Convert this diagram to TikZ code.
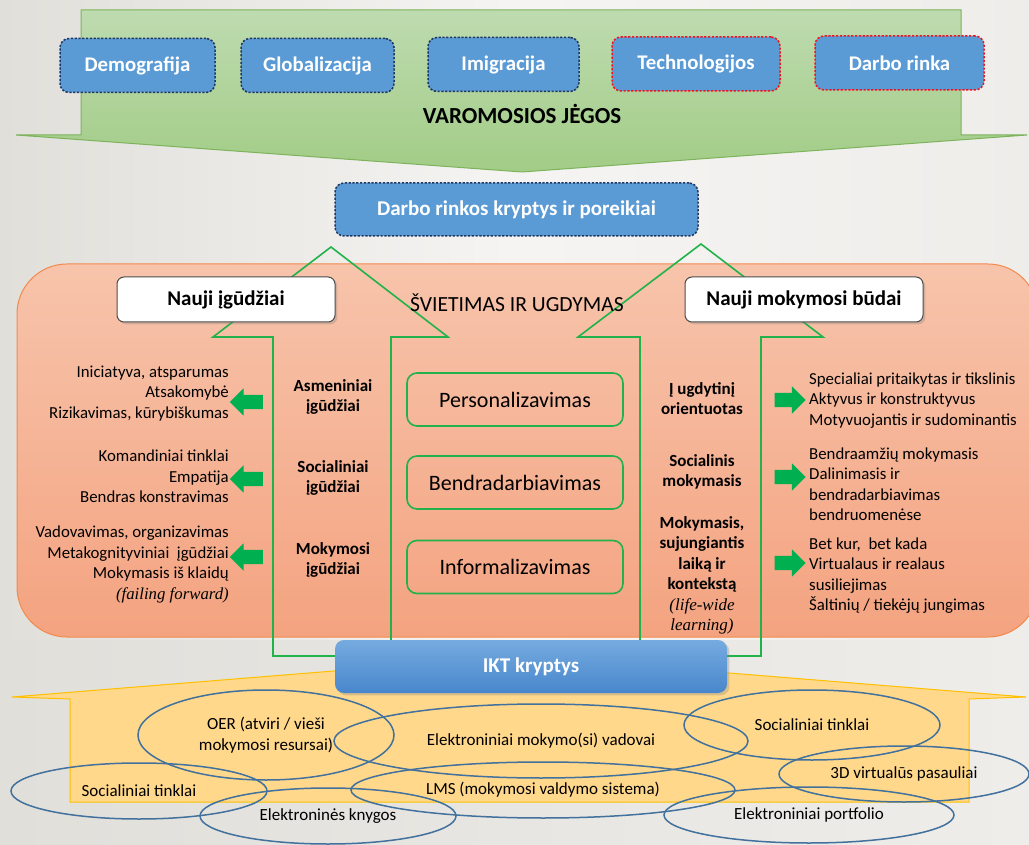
\documentclass[tikz,border=0pt]{standalone}
\usepackage{fontspec}
\setmainfont{Carlito}
\newfontfamily\itserif{Liberation Serif}
\usetikzlibrary{shapes.geometric,shapes.arrows,shadows,positioning}

\definecolor{pagebg}{HTML}{EFEDEA}
\definecolor{pageside}{HTML}{E1DFDA}
\definecolor{lowband}{HTML}{D3DEE1}
\definecolor{forcetop}{HTML}{BEDBB0}
\definecolor{forcebot}{HTML}{A2CC86}
\definecolor{forceline}{HTML}{7CB35B}
\definecolor{boxblue}{HTML}{5B9BD5}
\definecolor{forcenavy}{HTML}{1F3763}
\definecolor{forcered}{HTML}{F0141E}
\definecolor{paneltop}{HTML}{F7C4AB}
\definecolor{panelbot}{HTML}{F4A380}
\definecolor{panelline}{HTML}{F28A4E}
\definecolor{arrowgreen}{HTML}{22B24C}
\definecolor{pointgreen}{HTML}{00B050}
\definecolor{ictop}{HTML}{75ABDF}
\definecolor{icbot}{HTML}{4886CC}
\definecolor{toolfill}{HTML}{FFD88B}
\definecolor{toolline}{HTML}{FFC000}
\definecolor{elblue}{HTML}{41719C}

\newcommand{\engit}[1]{{\itserif\itshape\mdseries #1}}

\begin{document}
\begin{tikzpicture}[
        x=1pt, y=-1pt,
        font=\fontsize{16.8}{20.5}\selectfont,
        every node/.style={inner sep=0pt},
        force/.style={draw=forcenavy, dash pattern=on 2.2pt off 1.6pt, line width=1.5pt, fill=boxblue,
            rounded corners=9pt, text=white, font=\fontsize{20.8}{24}\selectfont\bfseries, minimum height=54pt},
        redforce/.style={force, draw=forcered},
        header/.style={draw=black!70, line width=1pt, fill=white, rounded corners=7pt,
            font=\fontsize{21}{24}\selectfont\bfseries, minimum height=45pt, drop shadow={opacity=0.3}},
        trend/.style={draw=arrowgreen, line width=1.6pt, rounded corners=10pt, minimum width=216pt,
            minimum height=53pt, font=\fontsize{22}{24}\selectfont},
        skill/.style={font=\fontsize{17}{20.5}\selectfont\bfseries, align=center},
        pointer/.style={single arrow, fill=pointgreen, inner xsep=0pt, inner ysep=7pt,
            minimum height=33pt, single arrow head extend=6.5pt},
        tool/.style={ellipse, draw=elblue, line width=1.5pt, align=center, font=\fontsize{17}{20.5}\selectfont},
        outline/.style={draw=arrowgreen, line width=1.6pt},
    ]
    \useasboundingbox (0,0) rectangle (1029,845);
    \shade[left color=pageside, right color=pagebg, middle color=pagebg!60!white] (0,0) rectangle (1029,845);
    \shade[left color=pageside, middle color=lowband, right color=pagebg] (0,640) rectangle (1029,845);

    \path[draw=forceline, line width=1pt, top color=forcetop, bottom color=forcebot]
        (81,10) -- (961,10) -- (961,135) -- (1027,135) -- (522,172) -- (16,135) -- (81,135) -- cycle;
    \path[draw=panelline, line width=1pt, top color=paneltop, bottom color=panelbot, rounded corners=50pt]
        (17,264) rectangle (1038,637);

    \draw[outline] (335,656) -- (273,656) -- (273,337) -- (213,337) -- (331,247) -- (448,337) -- (391,337) -- (391,642);
    \draw[outline] (640,642) -- (640,337) -- (578,337) -- (701,244) -- (823,337) -- (761,337) -- (761,656) -- (727,656);

    \path[fill=toolfill, draw=toolline, line width=1pt]
        (70,802) -- (70,699) -- (12,697) -- (519,656) -- (1026,697) -- (969,699) -- (969,802) -- cycle;

    \node[force, minimum width=155pt] (demo) at (137.5,65.5) {Demografija};
    \node[force, minimum width=153pt] (glob) at (317.5,65.5) {Globalizacija};
    \node[force, minimum width=151pt] (imig) at (503.5,64.5) {Imigracija};
    \node[redforce, minimum width=168pt] (tech) at (696,64) {Technologijos};
    \node[redforce, minimum width=169pt] (rinka) at (899.5,63) {Darbo rinka};
    \node[font=\fontsize{23}{26}\selectfont\bfseries] (jegos) at (522,114) {VAROMOSIOS JĖGOS};

    \node[force, minimum width=363pt, minimum height=53pt, font=\fontsize{21}{24}\selectfont\bfseries] (poreikiai) at (516.5,209.5) {Darbo rinkos kryptys ir poreikiai};

    \node[header, minimum width=218pt] (igud) at (226,299.5) {Nauji įgūdžiai};
    \node[header, minimum width=238pt] (budai) at (804,299.5) {Nauji mokymosi būdai};
    \node[font=\fontsize{21.6}{24}\selectfont] (svietimas) at (517,303) {ŠVIETIMAS IR UGDYMAS};

    \node[trend] (pers) at (515,399.5) {Personalizavimas};
    \node[trend] (bendr) at (515,482.5) {Bendradarbiavimas};
    \node[trend] (inform) at (515,567) {Informalizavimas};

    \node[skill] (asm) at (333,397) {Asmeniniai\\įgūdžiai};
    \node[skill] (soc) at (333,478) {Socialiniai\\įgūdžiai};
    \node[skill] (mok) at (333,560) {Mokymosi\\įgūdžiai};

    \node[align=right, anchor=east] (asmtxt) at (229,393.5) {Iniciatyva, atsparumas\\Atsakomybė\\Rizikavimas, kūrybiškumas};
    \node[align=right, anchor=east] (soctxt) at (229,476.5) {Komandiniai tinklai\\Empatija\\Bendras konstravimas};
    \node[align=right, anchor=east] (moktxt) at (229,564.5) {Vadovavimas, organizavimas\\Metakognityviniai\ \ įgūdžiai\\Mokymasis iš klaidų\\\engit{(failing forward)}};

    \node[pointer, shape border rotate=180] (asmptr) at (250,402) {};
    \node[pointer, shape border rotate=180] (socptr) at (250,479) {};
    \node[pointer, shape border rotate=180] (mokptr) at (250,557) {};

    \node[skill] (ugd) at (702,398.5) {Į ugdytinį\\orientuotas};
    \node[skill] (socm) at (702,472) {Socialinis\\mokymasis};
    \node[skill] (laik) at (702,575.5) {Mokymasis,\\sujungiantis\\laiką ir\\kontekstą\\\engit{(life-wide}\\\engit{learning)}};

    \node[pointer, minimum height=31pt] (ugdptr) at (786.5,400) {};
    \node[pointer, minimum height=31pt] (socmptr) at (786.5,477) {};
    \node[pointer, minimum height=31pt] (laikptr) at (786.5,563) {};

    \node[align=left, anchor=west] (ugdtxt) at (809,400.5) {Specialiai pritaikytas ir tikslinis\\Aktyvus ir konstruktyvus\\Motyvuojantis ir sudominantis};
    \node[align=left, anchor=west] (socmtxt) at (809,484) {Bendraamžių mokymasis\\Dalinimasis ir\\bendradarbiavimas\\bendruomenėse};
    \node[align=left, anchor=west] (laiktxt) at (809,575.5) {Bet kur,\ \ bet kada\\Virtualaus ir realaus\\susiliejimas\\Šaltinių / tiekėjų jungimas};

    \node[top color=ictop, bottom color=icbot, rounded corners=9pt, minimum width=392pt, minimum height=53pt,
        text=white, font=\fontsize{21}{24}\selectfont\bfseries, drop shadow={opacity=0.3}] (ikt) at (531,666.5) {IKT kryptys};

    \node[tool, minimum width=256pt, minimum height=90pt] (oer) at (266,735) {OER (atviri / vieši\\mokymosi resursai)};
    \node[tool, minimum width=414pt, minimum height=74pt] (vadovai) at (541,741) {Elektroniniai mokymo(si) vadovai};
    \node[tool, minimum width=256pt, minimum height=70pt] (tinklaiR) at (812,725) {Socialiniai tinklai};
    \node[tool, minimum width=250pt, minimum height=56pt] (virtual) at (904,774) {3D virtualūs pasauliai};
    \node[tool, minimum width=256pt, minimum height=56pt] (tinklaiL) at (139,791) {Socialiniai tinklai};
    \node[tool, minimum width=384pt, minimum height=56pt] (lms) at (543,790) {LMS (mokymosi valdymo sistema)};
    \node[tool, minimum width=256pt, minimum height=56pt] (knygos) at (328,816) {Elektroninės knygos};
    \node[tool, minimum width=290pt, minimum height=56pt] (portfolio) at (809,815) {Elektroniniai portfolio};

\end{tikzpicture}
\end{document}
